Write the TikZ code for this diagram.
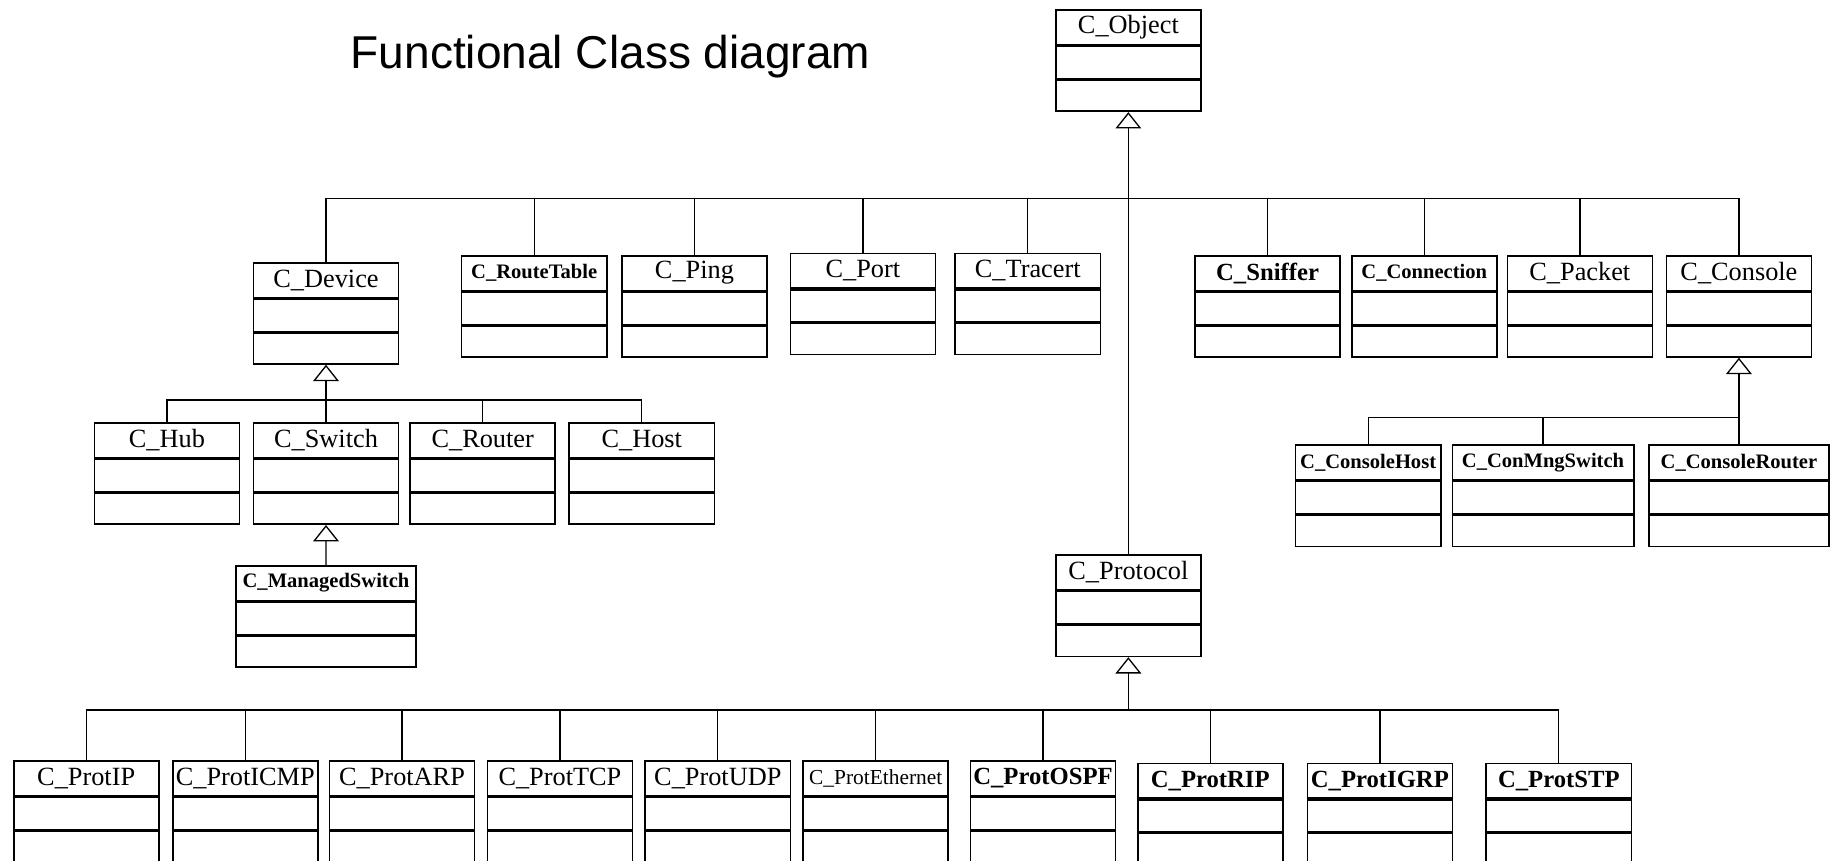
\documentclass[tikz,border=0pt]{standalone}
\usepackage{fontspec}
\setmainfont{Liberation Serif}
\newfontfamily\titlefont{Liberation Sans}
\usepackage{tikz}
\usetikzlibrary{positioning,arrows.meta}

% one UML class: header with name, then two empty compartments
% #1 width, #2 name, #3 font style, #4 north west corner, #5 label
\newcommand{\classbox}[5][3.1cm]{%
    \node[hdr, minimum width=#1, #3] (#2) at (#4) {#5};
    \node[cmp, minimum width=#1, minimum height=0.69cm, below=0pt of #2] (#2-a) {};
    \node[cmp, minimum width=#1, minimum height=0.66cm, below=0pt of #2-a] (#2-o) {};
}

\begin{document}
\begin{tikzpicture}[
    x=0.025cm, y=-0.025cm,
    hdr/.style={
        rectangle, draw, line width=1pt, anchor=north west,
        minimum height=0.74cm, inner sep=0pt
    },
    cmp/.style={rectangle, draw, line width=1pt, inner sep=0pt},
    rname/.style={font=\fontsize{16}{18}\selectfont},
    bname/.style={font=\fontsize{12.5}{14}\selectfont\bfseries},
    bbig/.style={font=\fontsize{15}{17}\selectfont\bfseries},
    link/.style={draw, line width=0.8pt},
    gen/.style={draw, line width=0.8pt, -{Triangle[fill=white, length=0.35cm, width=0.55cm]}}
]
    \useasboundingbox (0,0) rectangle (1568,736);
    \clip (0,0) rectangle (1568,736);

    \node[font=\titlefont\fontsize{28}{30}\selectfont] (title) at (522,48) {Functional Class diagram};

    % root
    \classbox{Object}{rname}{902,8}{C\_Object}

    % first level
    \classbox{Device}{rname}{216,224}{C\_Device}
    \classbox{RouteTable}{bname}{394,218}{C\_RouteTable}
    \classbox{Ping}{rname}{531,218}{C\_Ping}
    \classbox{Port}{rname}{675,216}{C\_Port}
    \classbox{Tracert}{rname}{816,216}{C\_Tracert}
    \classbox{Sniffer}{bbig}{1021,218}{C\_Sniffer}
    \classbox{Connection}{bname}{1155,218}{C\_Connection}
    \classbox{Packet}{rname}{1288,218}{C\_Packet}
    \classbox{Console}{rname}{1424,218}{C\_Console}
    \classbox{Protocol}{rname}{902,474}{C\_Protocol}

    % devices
    \classbox{Hub}{rname}{80,361}{C\_Hub}
    \classbox{Switch}{rname}{216,361}{C\_Switch}
    \classbox{Router}{rname}{350,361}{C\_Router}
    \classbox{Host}{rname}{486,361}{C\_Host}
    \classbox[3.85cm]{ManagedSwitch}{bname}{201,483}{C\_ManagedSwitch}

    % consoles
    \classbox{ConsoleHost}{bname}{1107,380}{C\_ConsoleHost}
    \classbox[3.875cm]{ConMngSwitch}{bname}{1241,380}{C\_ConMngSwitch}
    \classbox[3.85cm]{ConsoleRouter}{bname}{1409,380}{C\_ConsoleRouter}

    % protocols
    \classbox{ProtIP}{rname}{11,650}{C\_ProtIP}
    \classbox{ProtICMP}{rname}{147,650}{C\_ProtICMP}
    \classbox{ProtARP}{rname}{281,650}{C\_ProtARP}
    \classbox{ProtTCP}{rname}{416,650}{C\_ProtTCP}
    \classbox{ProtUDP}{rname}{551,650}{C\_ProtUDP}
    \classbox{ProtEthernet}{font=\fontsize{13}{15}\selectfont}{686,650}{C\_ProtEthernet}
    \classbox{ProtOSPF}{bbig}{829,650}{C\_ProtOSPF}
    \classbox{ProtRIP}{bbig}{972,652}{C\_ProtRIP}
    \classbox{ProtIGRP}{bbig}{1117,652}{C\_ProtIGRP}
    \classbox{ProtSTP}{bbig}{1270,652}{C\_ProtSTP}

    % junction points of the inheritance trees
    \coordinate (objJoin) at (Object-o.south |- 0,170);
    \coordinate (devJoin) at (Device-o.south |- 0,342);
    \coordinate (conJoin) at (Console-o.south |- 0,357);
    \coordinate (protJoin) at (Protocol-o.south |- 0,607);

    \path [gen] (objJoin) -- (Object-o.south);
    \foreach \c in {Device,RouteTable,Ping,Port,Tracert,Sniffer,Connection,Packet,Console}
        \path [link] (\c.north) |- (objJoin);
    \path [link] (Protocol.north) -- (objJoin);

    \path [gen] (devJoin) -- (Device-o.south);
    \foreach \c in {Hub,Switch,Router,Host}
        \path [link] (\c.north) |- (devJoin);
    \path [gen] (ManagedSwitch.north) -- (Switch-o.south);

    \path [gen] (conJoin) -- (Console-o.south);
    \foreach \c in {ConsoleHost,ConMngSwitch,ConsoleRouter}
        \path [link] (\c.north) |- (conJoin);

    \path [gen] (protJoin) -- (Protocol-o.south);
    \foreach \c in {ProtIP,ProtICMP,ProtARP,ProtTCP,ProtUDP,ProtEthernet,ProtOSPF,ProtRIP,ProtIGRP,ProtSTP}
        \path [link] (\c.north) |- (protJoin);
\end{tikzpicture}
\end{document}
